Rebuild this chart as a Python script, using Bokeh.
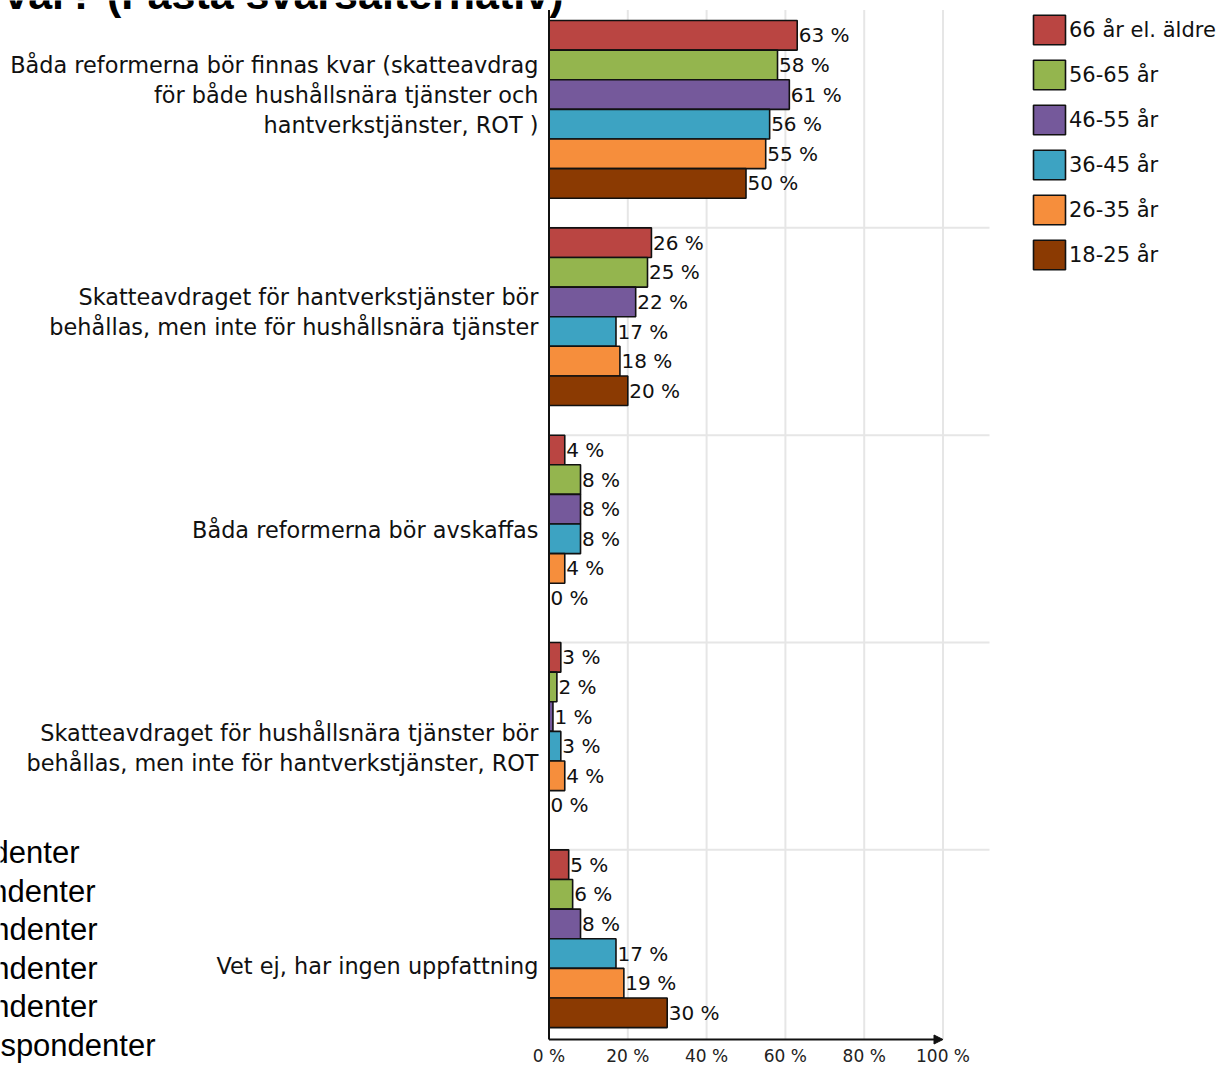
from bokeh.plotting import figure
from bokeh.models import Range1d, Legend, LegendItem, Arrow, NormalHead, ColumnDataSource
from bokeh.core.properties import value
from bokeh.embed import file_html
from bokeh.resources import INLINE

# ---------------- data ----------------
categories = [
    ["Båda reformerna bör finnas kvar (skatteavdrag", "för både hushållsnära tjänster och", "hantverkstjänster, ROT )"],
    ["Skatteavdraget för hantverkstjänster bör", "behållas, men inte för hushållsnära tjänster"],
    ["Båda reformerna bör avskaffas"],
    ["Skatteavdraget för hushållsnära tjänster bör", "behållas, men inte för hantverkstjänster, ROT"],
    ["Vet ej, har ingen uppfattning"],
]
series_names = ["66 år el. äldre", "56-65 år", "46-55 år", "36-45 år", "26-35 år", "18-25 år"]
v_66_plus = [63, 26, 4, 3, 5]
v_56_65 = [58, 25, 8, 2, 6]
v_46_55 = [61, 22, 8, 1, 8]
v_36_45 = [56, 17, 8, 3, 17]
v_26_35 = [55, 18, 4, 4, 19]
v_18_25 = [50, 20, 0, 0, 30]
series_values = [v_66_plus, v_56_65, v_46_55, v_36_45, v_26_35, v_18_25]
series_colors = ["#BA4542", "#94B54E", "#75599B", "#3DA3C2", "#F68E3C", "#8B3A02"]
x_ticks = [0, 20, 40, 60, 80, 100]
x_tick_labels = ["0 %", "20 %", "40 %", "60 %", "80 %", "100 %"]
title_text = "var? (Fasta svarsalternativ)"
side_texts = ["respondenter"] * 6

# ---------------- layout (pixel geometry of the page) ----------------
W, H = 1220, 1066
ORIGIN_X, PX_PER_PCT = 548.5, 3.94      # page x of 0 %, px per percent
ORIGIN_Y, PX_PER_BAR = 20.0, 29.62      # page y of first bar top, px per bar
GROUP_STEP = 7                          # 6 bars + 1 gap


def dx(px):
    return (px - ORIGIN_X) / PX_PER_PCT


def dy(py):
    return (py - ORIGIN_Y) / PX_PER_BAR


Y_PLOT_TOP, Y_AXIS, X_PLOT_RIGHT = dy(9.5), dy(1039), dx(989)

p = figure(width=W, height=H, output_backend="svg", toolbar_location=None,
           x_range=Range1d(dx(0), dx(W)), y_range=Range1d(dy(H), dy(0)),
           x_axis_location=None, y_axis_location=None, min_border=0)
p.outline_line_color = None
p.grid.visible = False
p.background_fill_color = "white"

FONT = "DejaVu Sans"
INK = "#111111"

# grid lines
p.segment(x0=x_ticks[1:], x1=x_ticks[1:], y0=Y_PLOT_TOP, y1=Y_AXIS,
          line_color="#e6e6e6", line_width=2)
seps = [GROUP_STEP * i for i in range(1, len(categories))]
p.segment(x0=0, x1=X_PLOT_RIGHT, y0=seps, y1=seps, line_color="#e6e6e6", line_width=2)

renderers = []
for j, (name, vals, col) in enumerate(zip(series_names, series_values, series_colors)):
    ys = [GROUP_STEP * i + j + 0.5 for i in range(len(vals))]
    src = ColumnDataSource(dict(y=ys, right=vals, lab=[f"{v} %" for v in vals]))
    r = p.hbar(y="y", left=0, right="right", height=1.0, source=src,
               fill_color=col, line_color=INK, line_width=1.6)
    renderers.append(r)
    p.text(x="right", y="y", text="lab", source=src, x_offset=1.5,
           text_baseline="middle", text_align="left", text_font=value(FONT),
           text_font_size="20px", text_color=INK)

# axes
p.segment(x0=0, x1=0, y0=Y_PLOT_TOP, y1=Y_AXIS, line_color=INK, line_width=2)
p.add_layout(Arrow(end=NormalHead(size=9, fill_color=INK, line_color=INK),
                   x_start=0, y_start=Y_AXIS, x_end=100, y_end=Y_AXIS,
                   line_color=INK, line_width=2))
p.text(x=x_ticks, y=dy(1055), text=x_tick_labels, text_align="center",
       text_baseline="middle", text_font=value(FONT), text_font_size="17px",
       text_color="#222222")

# category labels
lab_x, lab_y, lab_t = [], [], []
for i, lines in enumerate(categories):
    n = len(lines)
    for k, line in enumerate(lines):
        lab_x.append(dx(538))
        lab_y.append(dy(94 + 217.8 * i + 30 * (k - (n - 1) / 2)))
        lab_t.append(line)
p.text(x=lab_x, y=lab_y, text=lab_t, text_align="right", text_baseline="middle",
       text_font=value(FONT), text_font_size="22.4px", text_color=INK)

# legend (area glyphs are drawn at 80 % of the glyph box)
legend = Legend(items=[LegendItem(label=n, renderers=[r]) for n, r in zip(series_names, renderers)],
                location=(1029, H - 273),
                glyph_width=40, glyph_height=37, label_height=37, spacing=8,
                label_standoff=0, padding=0, margin=0,
                border_line_alpha=0, background_fill_alpha=0,
                label_text_font=FONT, label_text_font_size="21px",
                label_text_color=INK)
p.add_layout(legend)

# cropped texts of the original page
p.text(x=[dx(563)], y=[dy(-7)], text=[title_text], text_align="right",
       text_baseline="middle", text_font=value("Liberation Sans"),
       text_font_style="bold", text_font_size="43px", text_color="#000000")
p.text(x=[dx(v) for v in [79, 95, 97, 97, 97, 155]],
       y=[dy(852 + 38.5 * k) for k in range(len(side_texts))], text=side_texts,
       text_align="right", text_baseline="middle", text_font=value("Liberation Sans"),
       text_font_size="31px", text_color="#000000")

open("out.html", "w").write(file_html(p, INLINE))
